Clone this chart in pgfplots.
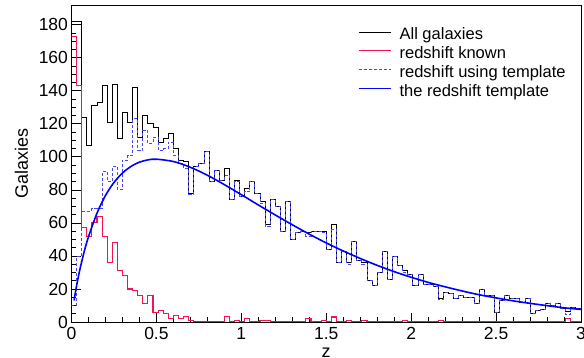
\documentclass[border=0pt]{standalone}
\usepackage{pgfplots}
\usepackage{pgfplotstable}
\pgfplotsset{compat=1.18}
\usepackage{fontspec}
\setmainfont{Liberation Sans}
\definecolor{rootred}{RGB}{240,20,80}
\definecolor{dashblue}{RGB}{70,70,255}
\pgfplotstableread{
x all known tmpl
0.00 182 173 10
0.03 182 143 40
0.06 124 57 67
0.09 107 52 67
0.12 131 60 69
0.15 133 64 69
0.18 143 52 91
0.21 121 36 85
0.24 144 48 94
0.27 111 31 80
0.30 127 28 98
0.33 121 20 101
0.36 142 19 123
0.39 112 16 104
0.42 125 11 116
0.45 120 16 108
0.48 118 6 112
0.51 109 7 104
0.54 111 5 105
0.57 114 2 109
0.60 105 4 101
0.63 98 2 96
0.66 97 3.6 93
0.69 78 1 77
0.72 94 0 94
0.75 96 0 96
0.78 103 0 103
0.81 85 0 85
0.84 92 0 92
0.87 86 0 86
0.90 93 3.6 89
0.93 74 0 74
0.96 86 1 85
0.99 76 0 76
1.02 81 2 79
1.05 85 0 85
1.08 78 0 78
1.11 73 1 72
1.14 59 1 58
1.17 74 0 74
1.20 70 0 70
1.23 55 0 55
1.26 73 0 73
1.29 50 0 50
1.32 54 0 54
1.35 55 0 55
1.38 54 2 52
1.41 55 0 55
1.44 55 0 55
1.47 55 1 54
1.50 44 0 44
1.53 59 3 56
1.56 36 0 36
1.59 43 0 43
1.62 36 1 35
1.65 49 0 49
1.68 37 0 37
1.71 36 1 35
1.74 25 0 25
1.77 22 0 22
1.80 30 0 30
1.83 43 0 43
1.86 26 0 26
1.89 40 0 40
1.92 34 0 34
1.95 31 1 30
1.98 29 0 29
2.01 22 0 22
2.04 29 0 29
2.07 23 0 23
2.10 23 0 23
2.13 21.5 0 21.5
2.16 14.5 1 13.5
2.19 17.8 0 17.8
2.22 17.5 0 17.5
2.25 14 0 14
2.28 16 0 16
2.31 15 0 15
2.34 15 0 15
2.37 11 0 11
2.40 20 0 20
2.43 16 0 16
2.46 16 0 16
2.49 6 0 6
2.52 13 0 13
2.55 16 0 16
2.58 14.5 0 14.5
2.61 14.5 0 14.5
2.64 12 0 12
2.67 14 0 14
2.70 5 0 5
2.73 7 0 7
2.76 7.5 0 7.5
2.79 11 0 11
2.82 10 0 10
2.85 11 0 11
2.88 8 0 8
2.91 6.5 2 4.5
2.94 9 0 9
2.97 8 0 8
3.00 8 0 8
}\histdata
\begin{document}
\begin{tikzpicture}
\path[use as bounding box] (-71.5pt,-36pt) rectangle (512.5pt,322pt);
\begin{axis}[
  at={(0pt,0pt)}, anchor=south west,
  scale only axis, width=509.5pt, height=317pt,
  xmin=0, xmax=3, ymin=0, ymax=192,
  xtick={0,0.5,1,1.5,2,2.5,3}, xticklabels={0,0.5,1,1.5,2,2.5,3},
  ytick={0,20,...,180},
  minor x tick num=4, minor y tick num=3,
  tick pos=left, tick align=inside,
  major tick length=9pt, minor tick length=4.5pt,
  tick style={black, line width=0.8pt},
  axis line style={line width=0.9pt},
  ticklabel style={font=\fontsize{17.5}{20}\selectfont},
  /pgf/number format/assume math mode=true,
  xticklabel style={yshift=-2pt},
  xlabel={z}, ylabel={Galaxies},
  label style={font=\fontsize{18}{21}\selectfont},
  xlabel style={at={(axis description cs:0.5,0)}, anchor=north, yshift=-26pt, inner sep=0pt},
  ylabel style={at={(axis description cs:-0.0854,0.5)}, anchor=base, inner sep=0pt},
  legend style={at={(axis description cs:0.5623,1)}, anchor=north west, yshift=-23pt,
    draw=none, fill=none, inner sep=0pt, outer sep=0pt,
    font=\fontsize{16.5}{19}\selectfont, row sep=2.9pt, column sep=8pt,
    nodes={inner sep=0pt, text height=12pt, text depth=4pt}},
  legend cell align=left,
  legend image code/.code={\draw[#1] (0pt,4pt) -- (32pt,4pt);},
]
\addplot[const plot, black, line width=0.9pt] table[x=x, y=all] {\histdata};
\addlegendentry{All galaxies}
\addplot[const plot, rootred, line width=1.1pt] table[x=x, y=known] {\histdata};
\addlegendentry{redshift known}
\addplot[const plot, dashblue, dash pattern=on 3pt off 2pt, line width=0.9pt] table[x=x, y=tmpl] {\histdata};
\addlegendentry{redshift using template}
\addplot[blue, line width=1.6pt, smooth] coordinates {
(0.015,13.0) (0.03,22.0) (0.05,32.1) (0.075,42.7) (0.1,51.6) (0.15,65.9)
(0.2,76.6) (0.25,84.5) (0.3,90.2) (0.35,94.2) (0.4,96.8) (0.45,98.2)
(0.5,98.6) (0.6,97.2) (0.7,93.7) (0.8,88.9) (0.9,83.2) (1.0,77.1)
(1.1,70.9) (1.2,64.8) (1.3,58.9) (1.4,53.2) (1.5,47.9) (1.6,43.0)
(1.7,38.5) (1.8,34.3) (1.9,30.5) (2.0,27.1) (2.1,24.0) (2.2,21.3)
(2.3,18.8) (2.4,16.5) (2.5,14.6) (2.6,12.8) (2.7,11.3) (2.8,9.9)
(2.9,8.6) (3.0,7.6)};
\addlegendentry{the redshift template}
\end{axis}
\end{tikzpicture}
\end{document}
